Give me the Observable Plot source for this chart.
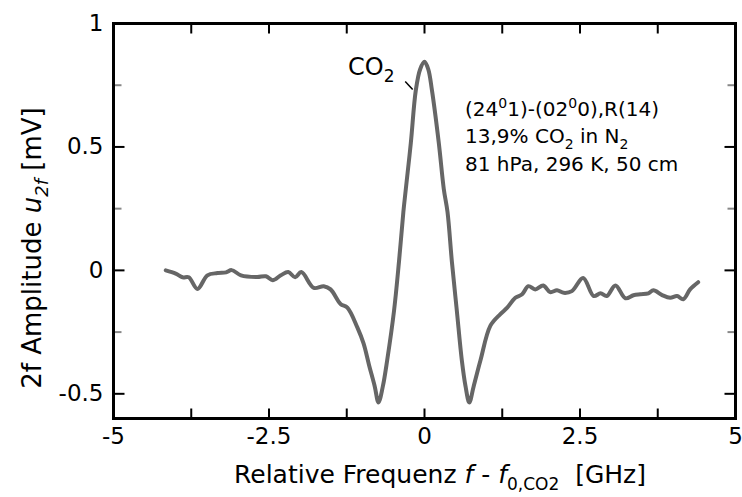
<!DOCTYPE html>
<html><head><meta charset="utf-8">
<script src="https://cdn.jsdelivr.net/npm/d3@7"></script>
<script src="https://cdn.jsdelivr.net/npm/@observablehq/plot@0.6"></script>
<style>body{margin:0;background:#fff} svg{display:block}</style>
</head><body><div id="chart"></div>
<script>
// Relative frequency f - f0 [GHz]
const freq = [-4.16,-4.00,-3.89,-3.79,-3.65,-3.49,-3.33,-3.19,-3.10,-2.95,-2.69,-2.55,-2.44,-2.31,-2.19,-2.08,-1.98,-1.78,-1.62,-1.51,-1.35,-1.24,-1.08,-0.98,-0.89,-0.80,-0.74,-0.67,-0.60,-0.49,-0.41,-0.34,-0.30,-0.22,-0.14,-0.07,0.00,0.06,0.12,0.23,0.31,0.37,0.44,0.52,0.60,0.66,0.72,0.79,0.90,1.06,1.22,1.33,1.46,1.57,1.67,1.78,1.91,2.02,2.13,2.24,2.37,2.55,2.72,2.83,2.93,3.07,3.23,3.36,3.47,3.60,3.68,3.82,3.95,4.06,4.16,4.27,4.40];
// 2f amplitude [mV]
const amp = [0.000,-0.013,-0.028,-0.028,-0.075,-0.020,-0.011,-0.008,0.001,-0.020,-0.027,-0.024,-0.040,-0.020,-0.007,-0.028,-0.007,-0.071,-0.064,-0.077,-0.136,-0.151,-0.231,-0.296,-0.385,-0.470,-0.535,-0.470,-0.364,-0.164,0.036,0.236,0.330,0.516,0.729,0.815,0.845,0.815,0.729,0.516,0.330,0.236,0.036,-0.164,-0.364,-0.470,-0.535,-0.470,-0.364,-0.224,-0.177,-0.151,-0.111,-0.097,-0.064,-0.077,-0.061,-0.088,-0.081,-0.091,-0.084,-0.031,-0.104,-0.093,-0.104,-0.061,-0.113,-0.101,-0.097,-0.093,-0.081,-0.100,-0.111,-0.104,-0.117,-0.077,-0.048];
const xMajor = [-5,-2.5,0,2.5,5];
const xMinor = [-3.75,-1.25,1.25,3.75];
const yMajor = [-0.5,0,0.5,1];
const yMinor = [-0.25,0.25,0.75];
const xTickLabels = ["-5","-2.5","0","2.5","5"];
const yTickLabels = ["-0.5","0","0.5","1"];
const peakLabel = [{x:-1.22, y:0.788}];
const leader = [{x1:-0.31, y1:0.765, x2:-0.19, y2:0.733}];
const infoAnchor = {x:0.66, y:0.624};

const W=742, H=497, mL=113, mR=7, mT=23, mB=79;
const ph = H-mT-mB, pw = W-mL-mR;
const xDom = [-5,5], yDom = [-0.6,1];
const FONT = "DejaVu Sans";
const data = freq.map((f,i)=>({f, u:amp[i]}));
const xAll = xMajor.concat(xMinor).map(v=>({v}));
const yMaj = yMajor.map(v=>({v})), yMin = yMinor.map(v=>({v}));
// tick lengths converted from pixels to data units
const pxX = (xDom[1]-xDom[0])/pw, pxY = (yDom[1]-yDom[0])/ph;

function xTicks(d, y0, len, stroke){
  return Plot.link(d,{x1:"v",x2:"v",y1:()=>y0,y2:()=>y0+len,stroke,strokeWidth:2});
}
function yTicks(d, x0, len, stroke){
  return Plot.link(d,{y1:"v",y2:"v",x1:()=>x0,x2:()=>x0+len,stroke,strokeWidth:2});
}

const plot = Plot.plot({
  width:W, height:H, marginLeft:mL, marginRight:mR, marginTop:mT, marginBottom:mB,
  style:{fontFamily:FONT, background:"white", color:"black"},
  x:{domain:xDom}, y:{domain:yDom},
  marks:[
    Plot.line(data,{x:"f",y:"u",stroke:"#666",strokeWidth:4,curve:"catmull-rom"}),
    xTicks(xAll, yDom[0], 10*pxY, "black"),
    xTicks(xAll, yDom[1], -10*pxY, "black"),
    yTicks(yMaj, xDom[0], 11*pxX, "black"),
    yTicks(yMaj, xDom[1], -11*pxX, "black"),
    yTicks(yMin, xDom[0], 8*pxX, "#888"),
    yTicks(yMin, xDom[1], -8*pxX, "#888"),
    Plot.frame({stroke:"black",strokeWidth:3}),
    Plot.axisX({ticks:xMajor,tickSize:0,tickPadding:9,tickFormat:(d)=>xTickLabels[xMajor.indexOf(d)],fontSize:23,label:null}),
    Plot.axisY({ticks:yMajor,tickSize:0,tickPadding:10,tickFormat:(d)=>yTickLabels[yMajor.indexOf(d)],fontSize:23,label:null}),
    Plot.link(leader,{x1:"x1",y1:"y1",x2:"x2",y2:"y2",stroke:"black",strokeWidth:1.5})
  ]
});
document.getElementById("chart").appendChild(plot);

const svg = d3.select(plot);
const sx = plot.scale("x"), sy = plot.scale("y");

function addText(g, parts){
  for (const p of parts){
    const t = g.append("tspan").text(p.t);
    if (p.i) t.attr("font-style","italic");
    if (p.fs) t.attr("font-size",p.fs);
    if (p.dy) t.attr("dy",p.dy);
  }
}

// X axis label
const xl = svg.append("text").attr("x",440).attr("y",483).attr("text-anchor","middle")
  .attr("font-family",FONT).attr("font-size",25).attr("fill","black");
addText(xl,[{t:"Relative Frequenz "},{t:"f",i:1},{t:" - "},{t:"f",i:1},{t:"0,CO2",fs:17,dy:7},{t:"  [GHz]",dy:-7}]);

// Y axis label
const yl = svg.append("text").attr("transform","translate(41,248) rotate(-90)").attr("text-anchor","middle")
  .attr("font-family",FONT).attr("font-size",26).attr("fill","black");
addText(yl,[{t:"2f Amplitude "},{t:"u",i:1},{t:"2f",i:1,fs:18,dy:7},{t:" [mV]",dy:-7}]);

// Peak label
for (const p of peakLabel){
  const t = svg.append("text").attr("x",sx.apply(p.x)).attr("y",sy.apply(p.y)).attr("text-anchor","start")
    .attr("font-family",FONT).attr("font-size",24).attr("fill","black");
  addText(t,[{t:"CO"},{t:"2",fs:17,dy:7}]);
}

// Info block
const ix = sx.apply(infoAnchor.x), iy = sy.apply(infoAnchor.y);
function infoLine(dy){
  return svg.append("text").attr("x",ix).attr("y",iy+dy).attr("text-anchor","start")
    .attr("font-family",FONT).attr("font-size",20).attr("fill","black");
}
addText(infoLine(0),[{t:"(24"},{t:"0",fs:14,dy:-8},{t:"1)-(02",dy:8},{t:"0",fs:14,dy:-8},{t:"0),R(14)",dy:8}]);
addText(infoLine(27.5),[{t:"13,9% CO"},{t:"2",fs:14,dy:6},{t:" in N",dy:-6},{t:"2",fs:14,dy:6}]);
addText(infoLine(55),[{t:"81 hPa, 296 K, 50 cm"}]);
</script></body></html>
